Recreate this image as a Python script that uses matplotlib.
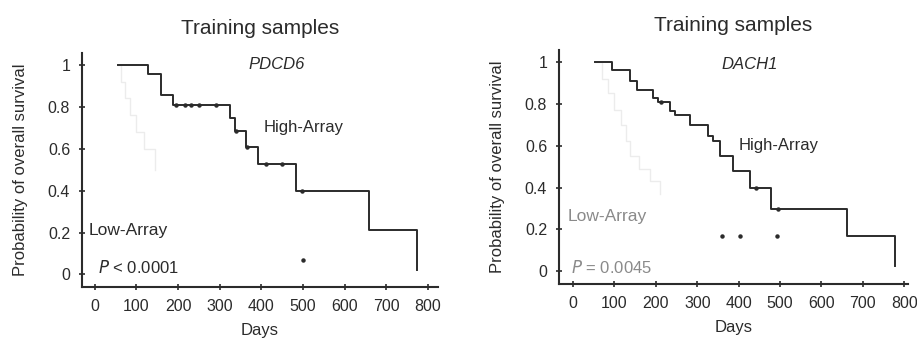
import numpy as np
import matplotlib
matplotlib.use("Agg")
import matplotlib.pyplot as plt

plt.rcParams['font.family'] = ['Liberation Sans', 'DejaVu Sans']

# PDCD6 panel (left)
pdcd6_high_t = [56, 128, 158, 187, 325, 337, 363, 391, 483, 659, 773]
pdcd6_high_s = [1.0, 0.957, 0.856, 0.81, 0.745, 0.684, 0.61, 0.525, 0.40, 0.21, 0.02]
pdcd6_cens_t = [195, 216, 232, 251, 291, 340, 366, 411, 449, 497]
pdcd6_low_t = [55, 62, 72, 84, 100, 118, 144]
pdcd6_low_s = [1.0, 0.92, 0.84, 0.76, 0.68, 0.60, 0.50]
pdcd6_stray_t = [501]
pdcd6_stray_s = [0.067]

# DACH1 panel (right)
dach1_high_t = [53, 93, 138, 154, 194, 206, 234, 246, 283, 327, 337, 355, 387, 428, 478, 661, 778]
dach1_high_s = [1.0, 0.96, 0.91, 0.867, 0.83, 0.81, 0.764, 0.748, 0.697, 0.644, 0.62,
                0.549, 0.478, 0.40, 0.30, 0.168, 0.025]
dach1_cens_t = [212, 442, 496]
dach1_low_t = [53, 70, 85, 100, 115, 128, 138, 160, 185, 210]
dach1_low_s = [1.0, 0.92, 0.85, 0.77, 0.70, 0.62, 0.55, 0.49, 0.43, 0.37]
dach1_stray_t = [359, 403, 493]
dach1_stray_s = [0.17, 0.17, 0.17]

x_ticks = [0, 100, 200, 300, 400, 500, 600, 700, 800]
y_ticks = [0, 0.2, 0.4, 0.6, 0.8, 1.0]

ink = "#2b2b2b"


def step_value(t_list, s_list, t):
    idx = np.searchsorted(t_list, t, side="right") - 1
    return s_list[max(idx, 0)]


def drawPanel(ax, gene, high_t, high_s, cens_t, low_t, low_s, stray_t, stray_s,
              xlim, gene_pos, high_pos, low_pos, p_text, p_pos, faint_p):
    ax.step(low_t, low_s, where="post", color="#ececec", lw=1.0)
    ax.step(high_t, high_s, where="post", color=ink, lw=1.4)
    cy = [step_value(high_t, high_s, t) for t in cens_t]
    ax.plot(cens_t, cy, "o", ms=2.2, color=ink)
    ax.plot(stray_t, stray_s, "o", ms=2.2, color=ink)

    ax.set_xlim(*xlim)
    ax.set_ylim(-0.06, 1.057)
    ax.set_xticks(x_ticks)
    ax.set_yticks(y_ticks)
    ax.set_yticklabels(["0", "0.2", "0.4", "0.6", "0.8", "1"])
    for s in ["top", "right"]:
        ax.spines[s].set_visible(False)
    for s in ["left", "bottom"]:
        ax.spines[s].set_linewidth(1.5)
        ax.spines[s].set_color(ink)
    ax.tick_params(direction="inout", length=5, width=1.2, colors=ink,
                   labelsize=11.5, pad=6)
    ax.set_xlabel("Days", fontsize=12, color=ink, labelpad=7)
    ax.set_ylabel("Probability of overall survival", fontsize=12, color=ink, labelpad=14)
    ax.set_title("Training samples", fontsize=15, color=ink, pad=14)

    ax.text(gene_pos[0], gene_pos[1], gene, style="italic", fontsize=12,
            color=ink, ha="center", va="center")
    ax.text(high_pos[0], high_pos[1], "High-Array", fontsize=12, color=ink,
            ha="center", va="center")
    low_col = "#8a8a8a" if faint_p else ink
    ax.text(low_pos[0], low_pos[1], "Low-Array", fontsize=12.5, color=low_col,
            ha="left", va="center")
    ax.text(p_pos[0], p_pos[1], p_text, fontsize=12, color=low_col,
            ha="left", va="center")


fig = plt.figure(figsize=(9.17, 3.4), dpi=100)
ax1 = fig.add_axes([0.0894, 0.156, 0.388, 0.688])
ax2 = fig.add_axes([0.6096, 0.165, 0.3806, 0.688])

drawPanel(ax1, "PDCD6", pdcd6_high_t, pdcd6_high_s, pdcd6_cens_t,
          pdcd6_low_t, pdcd6_low_s, pdcd6_stray_t, pdcd6_stray_s,
          (-31, 824), (437, 1.0), (501, 0.70), (-14, 0.21),
          r"$\it{P}$ < 0.0001", (8, 0.035), False)
drawPanel(ax2, "DACH1", dach1_high_t, dach1_high_s, dach1_cens_t,
          dach1_low_t, dach1_low_s, dach1_stray_t, dach1_stray_s,
          (-34, 809), (427, 0.987), (497, 0.60), (-14, 0.26),
          r"$\it{P}$ = 0.0045", (-6, 0.016), True)

fig.savefig("out.png", dpi=100, facecolor="white")
